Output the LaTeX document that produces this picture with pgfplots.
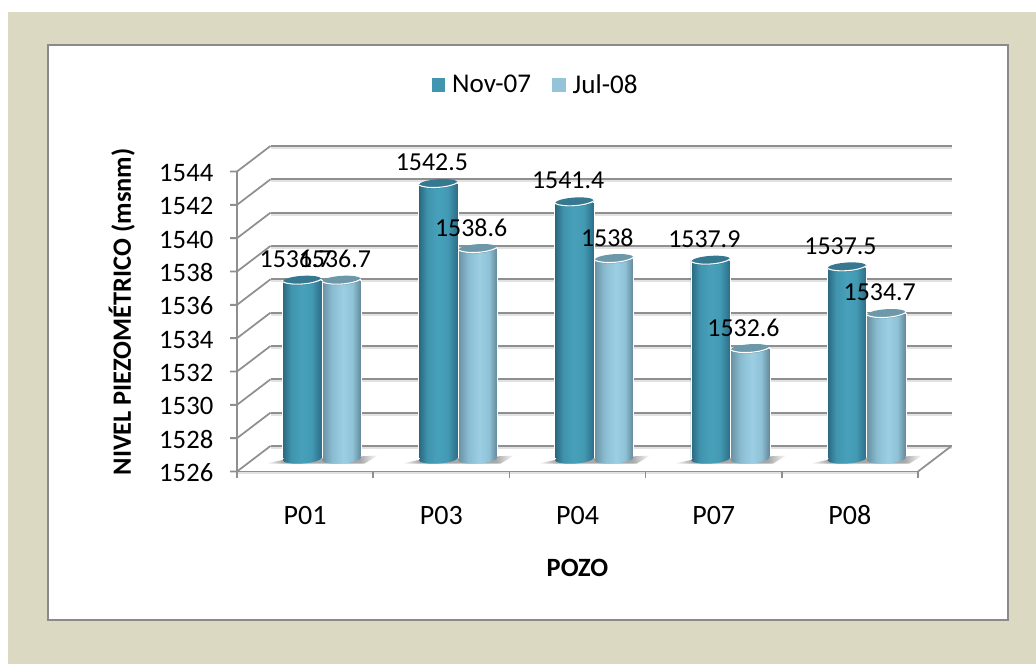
\documentclass[border=0pt]{standalone}
\usepackage{pgfplots}
\pgfplotsset{compat=1.18}
\usepackage{fontspec}
\setmainfont{Carlito}
\definecolor{tan}{HTML}{DBD9C2}
\definecolor{frame}{HTML}{8A8A8A}
\definecolor{gridc}{HTML}{8F8F8F}
\definecolor{shadowc}{HTML}{E2E2E2}
\definecolor{capnov}{HTML}{35788F}
\definecolor{capjul}{HTML}{6C98A9}
\definecolor{sqnov}{HTML}{4295AF}
\definecolor{sqjul}{HTML}{95C4D8}
\pgfdeclarehorizontalshading{cylnov}{100bp}{rgb(0bp)=(0.16,0.40,0.49);rgb(25bp)=(0.16,0.40,0.49);rgb(36bp)=(0.25,0.58,0.68);rgb(50bp)=(0.28,0.63,0.73);rgb(62bp)=(0.26,0.60,0.70);rgb(75bp)=(0.17,0.42,0.52);rgb(100bp)=(0.17,0.42,0.52)}
\pgfdeclarehorizontalshading{cyljul}{100bp}{rgb(0bp)=(0.41,0.56,0.63);rgb(25bp)=(0.41,0.56,0.63);rgb(38bp)=(0.54,0.74,0.82);rgb(52bp)=(0.61,0.81,0.89);rgb(64bp)=(0.56,0.76,0.84);rgb(75bp)=(0.38,0.52,0.59);rgb(100bp)=(0.38,0.52,0.59)}
\pgfdeclarehorizontalshading{floorsh}{100bp}{rgb(0bp)=(1,1,1);rgb(25bp)=(1,1,1);rgb(33bp)=(0.66,0.66,0.66);rgb(67bp)=(0.66,0.66,0.66);rgb(75bp)=(1,1,1);rgb(100bp)=(1,1,1)}
\pgfdeclareplotmark{capnov}{%
  \pgfsetfillcolor{capnov}%
  \pgfpathellipse{\pgfpointorigin}{\pgfpoint{14.6pt}{1.0pt}}{\pgfpoint{-0.3pt}{3.4pt}}\pgfusepathqfill
  \pgfsetstrokecolor{white}\pgfsetlinewidth{0.8pt}%
  \pgfpathmoveto{\pgfpoint{-14.6pt}{-1.0pt}}%
  \pgfpathcurveto{\pgfpoint{-9pt}{-4.2pt}}{\pgfpoint{9pt}{-3pt}}{\pgfpoint{14.6pt}{1.0pt}}\pgfusepathqstroke}
\pgfdeclareplotmark{capjul}{%
  \pgfsetfillcolor{capjul}%
  \pgfpathellipse{\pgfpointorigin}{\pgfpoint{14.6pt}{1.0pt}}{\pgfpoint{-0.3pt}{3.4pt}}\pgfusepathqfill
  \pgfsetstrokecolor{white}\pgfsetlinewidth{0.8pt}%
  \pgfpathmoveto{\pgfpoint{-14.6pt}{-1.0pt}}%
  \pgfpathcurveto{\pgfpoint{-9pt}{-4.2pt}}{\pgfpoint{9pt}{-3pt}}{\pgfpoint{14.6pt}{1.0pt}}\pgfusepathqstroke}
\pgfdeclareplotmark{footnov}{%
  \pgfpathellipse{\pgfpointorigin}{\pgfpoint{14.6pt}{1.0pt}}{\pgfpoint{-0.3pt}{3.6pt}}\pgfshadepath{cylnov}{0}\pgfusepath{discard}}
\pgfdeclareplotmark{footjul}{%
  \pgfpathellipse{\pgfpointorigin}{\pgfpoint{14.6pt}{1.0pt}}{\pgfpoint{-0.3pt}{3.6pt}}\pgfshadepath{cyljul}{0}\pgfusepath{discard}}
\pgfdeclareplotmark{floorshadow}{%
  \pgfpathmoveto{\pgfpoint{-42pt}{-3.6pt}}\pgfpathlineto{\pgfpoint{32pt}{-3.6pt}}%
  \pgfpathlineto{\pgfpoint{42pt}{2.4pt}}\pgfpathlineto{\pgfpoint{-30pt}{-1pt}}\pgfpathclose
  \pgfshadepath{floorsh}{0}\pgfusepath{discard}}
\pgfplotsset{
  novbar/.style={forget plot,ybar,bar width=29.6pt,bar shift=-14.8pt,draw=white,line width=0.5pt,shading=cylnov,
    nodes near coords,every node near coord/.append style={xshift=-19.6pt}},
  julbar/.style={forget plot,ybar,bar width=29.6pt,bar shift=14.8pt,draw=white,line width=0.5pt,shading=cyljul,
    nodes near coords,every node near coord/.append style={xshift=9.8pt}},
}
\begin{document}
\begin{tikzpicture}[x=0.75pt,y=0.75pt]
\path[use as bounding box] (0,0) rectangle (1036,664);
\fill[white] (0,0) rectangle (1036,664);
\fill[tan] (8,0) rectangle (1036,652);
\filldraw[fill=white,draw=frame,line width=1.9pt] (48,44) rectangle (1008,619);
\foreach \yy in {192.5,225.83,259.17,292.5,325.83,359.17,392.5,425.83,459.17,492.5}{
  \draw[shadowc,line width=1.3pt] (270.5,\yy+23.5) -- (951.5,\yy+23.5);
  \draw[gridc,line width=1.3pt] (230,\yy) -- (237,\yy) -- (270.5,\yy+25.5);
}
\draw[shadowc,line width=1.5pt] (237,190.5) -- (918,190.5);
\draw[gridc,line width=1.3pt] (918,192.5) -- (951.5,218);
\begin{axis}[
  name=back, at={(202.875pt,163.5pt)}, anchor=south west, scale only axis,
  width=510.75pt, height=225pt, xmin=0.5, xmax=5.5, ymin=1526, ymax=1544,
  xtick=\empty, ytick={1526,1528,...,1544}, yticklabels={},
  ymajorgrids, major grid style={gridc,line width=1.3pt},
  axis line style={draw=none}, tick style={draw=none}]
\end{axis}
\begin{axis}[
  name=front, at={(177.75pt,144.375pt)}, anchor=south west, scale only axis,
  width=510.75pt, height=225pt, xmin=0.5, xmax=5.5, ymin=1526, ymax=1544,
  axis x line=bottom, axis y line=left,
  axis line style={-,gridc,line width=1.3pt},
  tick align=outside, major tick length=5.25pt, minor tick length=5.25pt,
  tick style={gridc,line width=1.3pt},
  xtick={1,2,3,4,5}, xticklabels={P01,P03,P04,P07,P08},
  minor xtick={0.5,1.5,2.5,3.5,4.5,5.5},
  major x tick style={draw=none},
  ytick={1526,1528,...,1544},
  /pgf/number format/assume math mode=true,
  /pgf/number format/1000 sep={},
  typeset ticklabels with strut,
  y tick label style={font=\fontsize{20pt}{21pt}\selectfont,black,xshift=-9pt,yshift=-3.3pt},
  x tick label style={font=\fontsize{21pt}{22pt}\selectfont,black,yshift=-15.5pt},
  xlabel={\textbf{POZO}}, ylabel={\textbf{NIVEL PIEZOMÉTRICO (msnm)}},
  label style={font=\fontsize{19.8pt}{21pt}\selectfont,black},
  xlabel style={at={(axis description cs:0.5,-0.322)},anchor=center},
  ylabel style={at={(axis description cs:-0.169,0.532)},anchor=center}]
\end{axis}
\begin{axis}[
  name=bars, at={(190.31pt,153.94pt)}, anchor=south west, scale only axis,
  width=510.75pt, height=225pt, xmin=0.5, xmax=5.5, ymin=1526, ymax=1544,
  clip=false,
  xtick=\empty, ytick=\empty, axis line style={draw=none},
  /pgf/number format/fixed, /pgf/number format/precision=1,
  /pgf/number format/1000 sep={}, /pgf/number format/assume math mode=true,
  every node near coord/.style={anchor=center,yshift=16pt,
    font=\fontsize{19.4pt}{21pt}\selectfont,black},
  legend columns=2,
  legend style={at={(0.4145,1.2458)},anchor=center,draw=none,fill=none,
    font=\fontsize{20.3pt}{22pt}\selectfont,
    /tikz/every odd column/.append style={column sep=3.5pt},
    /tikz/every even column/.append style={column sep=14pt}},
]
\addlegendimage{legend image code/.code={\fill[sqnov] (0pt,-4.7pt) rectangle (9.3pt,4.7pt);}}
\addlegendentry{Nov-07}
\addlegendimage{legend image code/.code={\fill[sqjul] (0pt,-4.7pt) rectangle (9.3pt,4.7pt);}}
\addlegendentry{Jul-08}
\addplot[forget plot,only marks,mark=floorshadow] coordinates {(1,1526)(2,1526)(3,1526)(4,1526)(5,1526)};
\addplot[forget plot,only marks,mark=footnov,mark options={xshift=-14.8pt}] coordinates {(1,1526)(2,1526)(3,1526)(4,1526)(5,1526)};
\addplot[forget plot,only marks,mark=footjul,mark options={xshift=14.8pt}] coordinates {(1,1526)(2,1526)(3,1526)(4,1526)(5,1526)};
% Nov-07
\addplot[novbar] coordinates {(1,1536.7)};
\addplot[novbar] coordinates {(2,1542.5)};
\addplot[novbar] coordinates {(3,1541.4)};
\addplot[novbar] coordinates {(4,1537.9)};
\addplot[novbar] coordinates {(5,1537.5)};
\addplot[forget plot,only marks,mark=capnov,mark options={xshift=-14.8pt}]
  coordinates {(1,1536.7)(2,1542.5)(3,1541.4)(4,1537.9)(5,1537.5)};
% Jul-08
\addplot[julbar] coordinates {(1,1536.7)};
\addplot[julbar] coordinates {(2,1538.6)};
\addplot[julbar] coordinates {(3,1538)};
\addplot[julbar] coordinates {(4,1532.6)};
\addplot[julbar] coordinates {(5,1534.7)};
\addplot[forget plot,only marks,mark=capjul,mark options={xshift=14.8pt}]
  coordinates {(1,1536.7)(2,1538.6)(3,1538)(4,1532.6)(5,1534.7)};
\end{axis}
\end{tikzpicture}
\end{document}
